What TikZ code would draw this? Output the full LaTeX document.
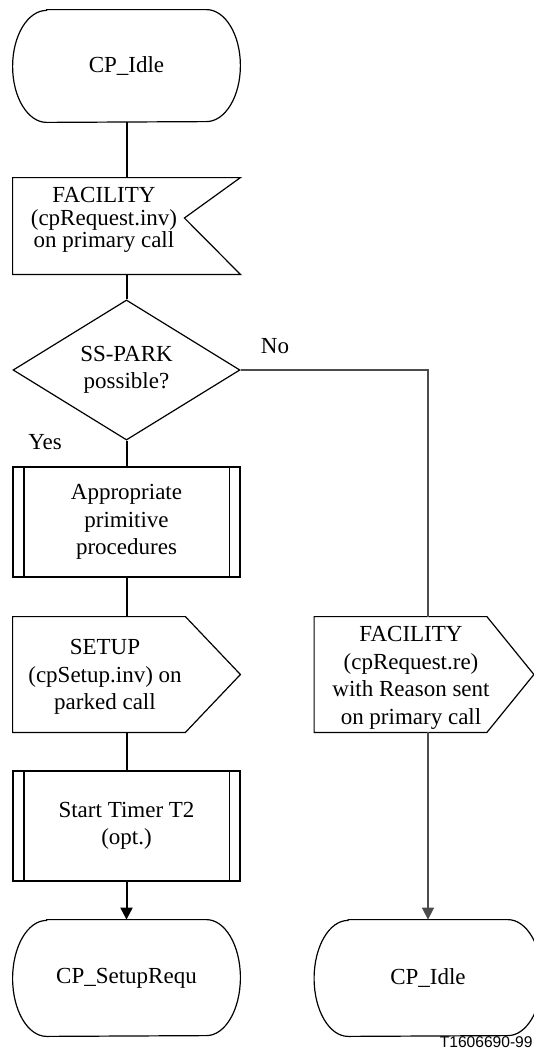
\documentclass[tikz,border=0pt]{standalone}
\usepackage{fontspec}
\setmainfont{Liberation Serif}
\setsansfont{Liberation Sans}
\usepackage{tikz}
\usetikzlibrary{shapes.geometric,arrows.meta,positioning,calc}
\tikzstyle{line} = [draw, line width=1pt]
\tikzstyle{txt} = [inner sep=0pt, align=center, font=\fontsize{11.5}{13.75}\selectfont]
\tikzstyle{frame} = [txt, minimum width=113.5pt]
\tikzstyle{state} = [frame, minimum height=58pt]
\tikzstyle{procbox} = [frame, draw, line width=0.6pt, minimum height=55pt]
\tikzstyle{sigbox} = [frame, minimum height=57.5pt]
\tikzstyle{decision} = [frame, diamond, draw, line width=0.6pt, minimum height=67pt]
\tikzset{>={Triangle[length=6pt,width=6pt]}}

\begin{document}
\begin{tikzpicture}[x=0.5pt,y=-0.5pt]
    \useasboundingbox (0,0) rectangle (534,1050);
    % left column
    \node [state, minimum height=56pt] (idle1) at (126.5,66) {CP\_Idle};
    \node [sigbox, minimum height=48pt] (in1) at (126.5,226) {};
    \node [txt, font=\fontsize{11.5}{11.25}\selectfont] (in1txt) at (104,220) {FACILITY\\(cpRequest.inv)\\on primary call};
    \node [decision] (park) at (126.5,370) {SS-PARK\\possible?};
    \node [procbox] (prim) at (126.5,522) {Appropriate\\primitive\\procedures};
    \node [sigbox] (out1) at (126.5,674.5) {};
    \node [txt] (out1txt) at (105,677) {SETUP\\(cpSetup.inv) on\\parked call};
    \node [procbox] (timer) at (126.5,826) {Start Timer T2\\(opt.)};
    \node [state] (idle2) at (126.5,978) {CP\_SetupRequ};
    % right column
    \node [sigbox] (out2) at (428,674.5) {};
    \node [txt] (out2txt) at (411,678) {FACILITY\\(cpRequest.re)\\with Reason sent\\on primary call};
    \node [state] (idle3) at (428,978) {CP\_Idle};

    % outlines
    \foreach \n/\r in {idle1/28pt,idle2/29pt,idle3/29pt}
      \draw [line width=0.6pt] ([xshift=17pt]\n.north west) -- ([xshift=-17pt]\n.north east)
        arc [start angle=90,end angle=-90,x radius=17pt,y radius=\r]
        -- ([xshift=17pt]\n.south west)
        arc [start angle=270,end angle=90,x radius=17pt,y radius=\r] -- cycle;
    \draw [line width=0.6pt] (in1.north west) -- (in1.north east) -- ([xshift=-28pt,yshift=4pt]in1.east)
      -- (in1.south east) -- (in1.south west) -- cycle;
    \foreach \n/\s in {out1/0pt,out2/-4pt}
      \draw [line width=0.6pt] (\n.north west) -- ([xshift=-27.5pt]\n.north east) -- ([xshift=\s]\n.east)
        -- ([xshift=-27.5pt]\n.south east) -- (\n.south west) -- cycle;
    \foreach \n in {prim,timer}
      \draw [line width=0.6pt] ([xshift=5.75pt]\n.north west) -- ([xshift=5.75pt]\n.south west)
        ([xshift=-5.75pt]\n.north east) -- ([xshift=-5.75pt]\n.south east);

    % connectors
    \draw [line] (idle1) -- (in1);
    \draw [line] (in1) -- (park);
    \draw [line] (park) -- (prim);
    \draw [line] (prim) -- (out1);
    \draw [line] (out1) -- (timer);
    \draw [line,->] (timer) -- (idle2);
    \draw [line, black!70, line width=0.8pt] (park.east) -| (out2);
    \draw [line, black!70, line width=0.8pt, ->] (out2) -- (idle3);

    \node [txt] (no) at (275,346) {No};
    \node [txt] (yes) at (45,442) {Yes};
    \node [txt, font=\fontsize{7.8}{10}\selectfont\sffamily, anchor=east] (fig) at (533,1042) {T1606690-99};
\end{tikzpicture}
\end{document}
